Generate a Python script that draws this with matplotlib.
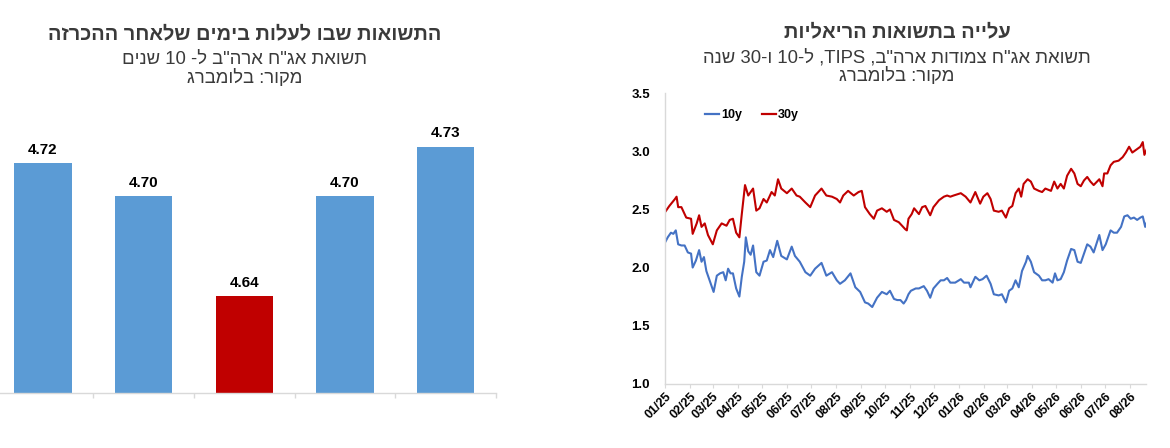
import re
import numpy as np
import matplotlib
matplotlib.use("Agg")
import matplotlib.pyplot as plt
import matplotlib.dates as mdates

# ---------------- data ----------------
bar_values = [4.72, 4.70, 4.64, 4.70, 4.73]
bar_highlight = 2

left_title = "התשואות שבו לעלות בימים שלאחר ההכרזה"
left_sub1 = 'תשואת אג"ח ארה"ב ל- 10 שנים'
left_sub2 = "מקור: בלומברג"

right_title = "עלייה בתשואות הריאליות"
right_sub1 = 'תשואת אג"ח צמודות ארה"ב, TIPS, ל-10 ו-30 שנה'
right_sub2 = "מקור: בלומברג"

start_date = "2025-01-01"
end_date = "2026-08-21"

days_10y = [0, 3, 7, 10, 13, 16, 20, 24, 28, 32, 34, 38, 42, 45, 48, 51, 55, 60, 64, 68,
            72, 75, 78, 81, 84, 88, 92, 95, 98, 100, 103, 106, 109, 113, 117, 122, 126, 130, 134, 139,
            144, 151, 157, 161, 167, 174, 180, 186, 194, 200, 207, 213, 217, 223, 230, 236, 242, 248, 252, 257,
            263, 269, 275, 279,
            284, 288, 292, 296, 299, 302, 305, 311, 315, 321, 325, 329, 333, 338, 342, 346, 350, 354, 360, 367,
            371, 377, 379, 385, 390, 394, 399, 404, 408, 414, 418, 423, 427, 431, 435, 439, 443, 448, 450, 454,
            458, 464, 468, 472, 476, 481, 484, 487, 491, 495, 499, 504, 508, 512, 516, 520, 524, 528, 532, 539,
            543, 547, 553, 557, 561, 566, 570, 574, 578, 582, 586, 590, 593, 596, 598]
yield_10y = [2.22, 2.26, 2.30, 2.29, 2.32, 2.20, 2.19, 2.19, 2.13, 2.12, 2.00, 2.06, 2.15, 2.05, 2.09, 1.97, 1.89, 1.79, 1.93, 1.95,
             1.96, 1.89, 1.99, 1.95, 1.95, 1.82, 1.75, 1.92, 2.05, 2.26, 2.14, 2.11, 2.19, 1.96, 1.93, 2.05, 2.06, 2.15, 2.09, 2.23,
             2.10, 2.07, 2.18, 2.10, 2.05, 1.96, 1.93, 1.99, 2.04, 1.93, 1.96, 1.89, 1.86, 1.89, 1.95, 1.83, 1.79, 1.70, 1.69, 1.66,
             1.74, 1.79, 1.77, 1.80,
             1.73, 1.72, 1.72, 1.69, 1.72, 1.77, 1.80, 1.82, 1.82, 1.84, 1.80, 1.74, 1.82, 1.86, 1.89, 1.89, 1.91, 1.87, 1.87, 1.90,
             1.87, 1.87, 1.83, 1.92, 1.89, 1.90, 1.93, 1.86, 1.77, 1.76, 1.77, 1.70, 1.80, 1.82, 1.89, 1.83, 1.97, 2.05, 2.10, 2.05,
             1.96, 1.93, 1.89, 1.89, 1.90, 1.87, 1.95, 1.89, 1.90, 1.96, 2.06, 2.16, 2.15, 2.05, 2.04, 2.12, 2.20, 2.18, 2.13, 2.28,
             2.15, 2.20, 2.32, 2.30, 2.30, 2.35, 2.44, 2.45, 2.42, 2.43, 2.41, 2.43, 2.44, 2.35, 2.39]

days_30y = [0, 5, 12, 14, 16, 20, 26, 32, 34, 39, 42, 45, 49, 53, 59, 64, 70, 76, 80, 84,
            88, 92, 95, 99, 103, 109, 113, 117, 122, 126, 132, 136, 140, 144, 151, 157, 163, 167, 174, 180,
            186, 194, 200, 207, 213, 217, 221, 227, 234, 240, 244, 248, 254, 259, 263, 269, 275, 279, 284, 290,
            294, 298, 300, 302, 306, 309, 315, 319, 323, 329, 333, 340, 346, 350, 354, 358, 367, 373, 379, 385,
            391, 395, 400, 404, 408, 414, 418, 423, 427, 431, 435, 439, 442, 445, 450, 454, 458, 464, 468, 472,
            479, 483, 487, 491, 495, 499, 504, 508, 512, 516, 520, 524, 528, 532, 539, 543, 545, 549, 553, 557,
            563, 568, 572, 576, 580, 586, 590, 593, 595, 598]
yield_30y = [2.48, 2.53, 2.59, 2.61, 2.52, 2.52, 2.43, 2.42, 2.29, 2.38, 2.45, 2.35, 2.38, 2.28, 2.20, 2.32, 2.38, 2.36, 2.41, 2.42,
             2.30, 2.26, 2.46, 2.71, 2.62, 2.68, 2.49, 2.51, 2.59, 2.56, 2.65, 2.62, 2.76, 2.68, 2.64, 2.68, 2.62, 2.61, 2.56, 2.52,
             2.62, 2.68, 2.62, 2.61, 2.59, 2.56, 2.62, 2.66, 2.62, 2.65, 2.66, 2.52, 2.46, 2.42, 2.49, 2.51, 2.48, 2.50, 2.41, 2.39,
             2.36, 2.33, 2.32, 2.42, 2.46, 2.51, 2.46, 2.52, 2.53, 2.45, 2.52, 2.58, 2.61, 2.62, 2.61, 2.62, 2.64, 2.61, 2.56, 2.65,
             2.55, 2.61, 2.64, 2.59, 2.49, 2.48, 2.49, 2.43, 2.51, 2.53, 2.64, 2.68, 2.61, 2.72, 2.76, 2.74, 2.68, 2.66, 2.65, 2.68,
             2.66, 2.74, 2.68, 2.72, 2.68, 2.79, 2.85, 2.81, 2.72, 2.70, 2.75, 2.78, 2.74, 2.71, 2.76, 2.70, 2.81, 2.81, 2.88, 2.91,
             2.92, 2.95, 2.99, 3.04, 2.99, 3.02, 3.04, 3.08, 2.97, 3.02]

series_labels = ["10y", "30y"]


def visual(s):
    """Simple RTL -> visual ordering (keeps Latin/digit runs left-to-right)."""
    r = s[::-1]
    return re.sub(r"[A-Za-z0-9]+", lambda m: m.group(0)[::-1], r)


HEB = ["Liberation Sans", "DejaVu Sans"]
NARROW = ["Liberation Sans Narrow", "Liberation Sans", "DejaVu Sans"]
TITLE_C = "#3a3a3a"
GRID_C = "#d9d9d9"

W, H = 1170, 448
fig = plt.figure(figsize=(W / 100, H / 100), dpi=100)
fig.patch.set_facecolor("white")


def fx(px):
    return px / W


def fy(py):
    return 1 - py / H


# ---------------- left: bar chart ----------------
axL = fig.add_axes([fx(-7.4), fy(392.7), fx(503.4), (392.7 - 100) / H])
x = np.arange(len(bar_values))
colors = ["#C00000" if i == bar_highlight else "#5B9BD5" for i in range(len(bar_values))]
bars = axL.bar(x, bar_values, width=0.57, color=colors, edgecolor="none")
axL.set_xlim(-0.5, len(bar_values) - 0.5)
axL.set_ylim(4.582, 4.758)
for b, v in zip(bars, bar_values):
    axL.annotate(f"{v:.2f}", (b.get_x() + b.get_width() / 2, v), xytext=(0, 4.5),
                 textcoords="offset points", ha="center", va="bottom",
                 fontsize=11, fontweight="bold", family=NARROW, color="black")
for s in ["left", "top", "right"]:
    axL.spines[s].set_visible(False)
axL.spines["bottom"].set_color(GRID_C)
axL.spines["bottom"].set_linewidth(1.0)
axL.set_yticks([])
axL.set_xticks(np.arange(len(bar_values)) + 0.5)
axL.set_xticklabels([])
axL.tick_params(axis="x", length=3.4, color=GRID_C, width=1.0, direction="out")
axL.patch.set_visible(False)

fig.text(fx(245), fy(39.3), visual(left_title), ha="center", va="baseline",
         fontsize=14.4, fontweight="bold", family=HEB, color=TITLE_C)
fig.text(fx(245), fy(63.5), visual(left_sub1), ha="center", va="baseline",
         fontsize=13.3, family=HEB, color=TITLE_C)
fig.text(fx(245), fy(82.5), visual(left_sub2), ha="center", va="baseline",
         fontsize=13.3, family=HEB, color=TITLE_C)

# ---------------- right: line chart ----------------
axR = fig.add_axes([fx(665.3), fy(383.7), fx(1146 - 665.3), (383.7 - 93.3) / H])
t0 = np.datetime64(start_date)
d10 = t0 + np.array(days_10y).astype("timedelta64[D]")
d30 = t0 + np.array(days_30y).astype("timedelta64[D]")
axR.plot(d10, yield_10y, color="#4472C4", lw=1.5, label=series_labels[0])
axR.plot(d30, yield_30y, color="#C00000", lw=1.5, label=series_labels[1])
axR.set_xlim(np.datetime64(start_date), np.datetime64(end_date))
axR.set_ylim(1.0, 3.5)
axR.set_yticks([1.0, 1.5, 2.0, 2.5, 3.0, 3.5])
axR.yaxis.set_major_formatter(matplotlib.ticker.FormatStrFormatter("%.1f"))
axR.xaxis.set_major_locator(mdates.MonthLocator())
axR.xaxis.set_major_formatter(mdates.DateFormatter("%m/%y"))
for s in ["top", "right"]:
    axR.spines[s].set_visible(False)
for s in ["left", "bottom"]:
    axR.spines[s].set_color(GRID_C)
    axR.spines[s].set_linewidth(1.0)
axR.tick_params(axis="y", length=0, pad=11, labelsize=9.5)
axR.tick_params(axis="x", length=3, color=GRID_C, direction="out", labelsize=9, pad=2)
for lab in axR.get_yticklabels():
    lab.set_fontweight("bold")
    lab.set_family(HEB)
for lab in axR.get_xticklabels():
    lab.set_fontweight("bold")
    lab.set_family(HEB)
    lab.set_rotation(45)
    lab.set_ha("right")
    lab.set_rotation_mode("anchor")
leg = axR.legend(loc="upper left", bbox_to_anchor=(0.06, 0.985), ncol=2, frameon=False,
                 handlelength=1.1, handletextpad=0.15, columnspacing=1.6,
                 prop={"weight": "bold", "size": 9, "family": HEB})
for lh in leg.get_lines():
    lh.set_linewidth(1.6)

fig.text(fx(897), fy(37.3), visual(right_title), ha="center", va="baseline",
         fontsize=14.4, fontweight="bold", family=HEB, color=TITLE_C)
fig.text(fx(897), fy(62.3), visual(right_sub1), ha="center", va="baseline",
         fontsize=13.3, family=HEB, color=TITLE_C)
fig.text(fx(897), fy(81), visual(right_sub2), ha="center", va="baseline",
         fontsize=13.3, family=HEB, color=TITLE_C)

fig.savefig("out.png", dpi=100, facecolor="white")
